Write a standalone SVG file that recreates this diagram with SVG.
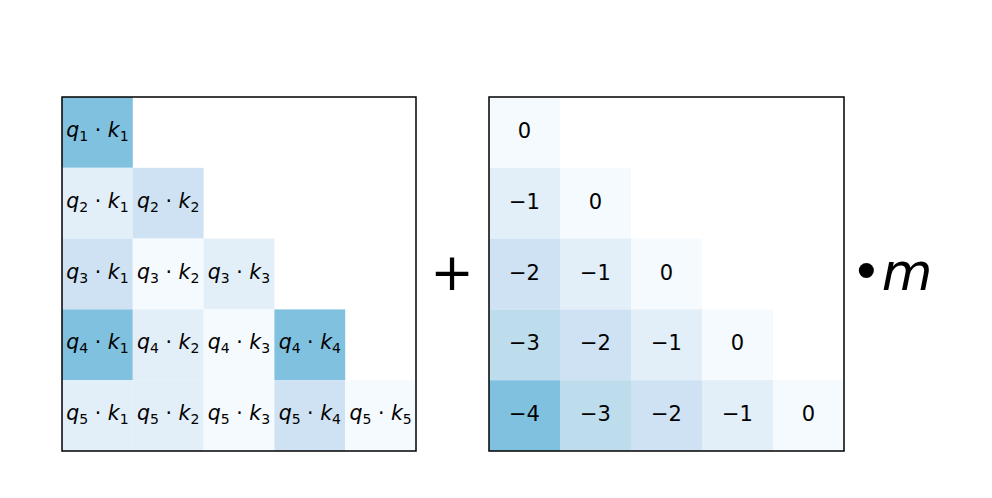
<svg xmlns="http://www.w3.org/2000/svg" width="992" height="498" viewBox="0 0 992 498">
<style>
.t{font-family:"DejaVu Sans",sans-serif;font-size:20.5px;fill:#000;text-anchor:middle}
.i{font-style:italic}
.s{font-size:14px}
.n{font-family:"DejaVu Sans",sans-serif;font-size:21px;fill:#000;text-anchor:middle}
.frame{fill:none;stroke:#000;stroke-width:1.5}
.c4{fill:#7fc1df}.c3{fill:#bddcec}.c2{fill:#cfe2f3}.c1{fill:#e2eef8}.c0{fill:#f5fafe}
</style>
<rect width="992" height="498" fill="#fff"/>
<g id="left-matrix">
<rect class="c4" x="62" y="97" width="70.8" height="70.8"/>
<rect class="c1" x="62" y="167.8" width="70.8" height="70.8"/>
<rect class="c2" x="132.8" y="167.8" width="70.8" height="70.8"/>
<rect class="c2" x="62" y="238.6" width="70.8" height="70.8"/>
<rect class="c0" x="132.8" y="238.6" width="70.8" height="70.8"/>
<rect class="c1" x="203.6" y="238.6" width="70.8" height="70.8"/>
<rect class="c4" x="62" y="309.4" width="70.8" height="70.8"/>
<rect class="c1" x="132.8" y="309.4" width="70.8" height="70.8"/>
<rect class="c0" x="203.6" y="309.4" width="70.8" height="70.8"/>
<rect class="c4" x="274.4" y="309.4" width="70.8" height="70.8"/>
<rect class="c1" x="62" y="380.2" width="70.8" height="70.8"/>
<rect class="c1" x="132.8" y="380.2" width="70.8" height="70.8"/>
<rect class="c0" x="203.6" y="380.2" width="70.8" height="70.8"/>
<rect class="c2" x="274.4" y="380.2" width="70.8" height="70.8"/>
<rect class="c0" x="345.2" y="380.2" width="70.8" height="70.8"/>
<text class="t" x="97.4" y="137"><tspan class="i">q</tspan><tspan class="s" dy="4">1</tspan><tspan dy="-4"> · </tspan><tspan class="i">k</tspan><tspan class="s" dy="4">1</tspan></text>
<text class="t" x="97.4" y="207.8"><tspan class="i">q</tspan><tspan class="s" dy="4">2</tspan><tspan dy="-4"> · </tspan><tspan class="i">k</tspan><tspan class="s" dy="4">1</tspan></text>
<text class="t" x="168.2" y="207.8"><tspan class="i">q</tspan><tspan class="s" dy="4">2</tspan><tspan dy="-4"> · </tspan><tspan class="i">k</tspan><tspan class="s" dy="4">2</tspan></text>
<text class="t" x="97.4" y="278.6"><tspan class="i">q</tspan><tspan class="s" dy="4">3</tspan><tspan dy="-4"> · </tspan><tspan class="i">k</tspan><tspan class="s" dy="4">1</tspan></text>
<text class="t" x="168.2" y="278.6"><tspan class="i">q</tspan><tspan class="s" dy="4">3</tspan><tspan dy="-4"> · </tspan><tspan class="i">k</tspan><tspan class="s" dy="4">2</tspan></text>
<text class="t" x="239" y="278.6"><tspan class="i">q</tspan><tspan class="s" dy="4">3</tspan><tspan dy="-4"> · </tspan><tspan class="i">k</tspan><tspan class="s" dy="4">3</tspan></text>
<text class="t" x="97.4" y="349.4"><tspan class="i">q</tspan><tspan class="s" dy="4">4</tspan><tspan dy="-4"> · </tspan><tspan class="i">k</tspan><tspan class="s" dy="4">1</tspan></text>
<text class="t" x="168.2" y="349.4"><tspan class="i">q</tspan><tspan class="s" dy="4">4</tspan><tspan dy="-4"> · </tspan><tspan class="i">k</tspan><tspan class="s" dy="4">2</tspan></text>
<text class="t" x="239" y="349.4"><tspan class="i">q</tspan><tspan class="s" dy="4">4</tspan><tspan dy="-4"> · </tspan><tspan class="i">k</tspan><tspan class="s" dy="4">3</tspan></text>
<text class="t" x="309.8" y="349.4"><tspan class="i">q</tspan><tspan class="s" dy="4">4</tspan><tspan dy="-4"> · </tspan><tspan class="i">k</tspan><tspan class="s" dy="4">4</tspan></text>
<text class="t" x="97.4" y="420.2"><tspan class="i">q</tspan><tspan class="s" dy="4">5</tspan><tspan dy="-4"> · </tspan><tspan class="i">k</tspan><tspan class="s" dy="4">1</tspan></text>
<text class="t" x="168.2" y="420.2"><tspan class="i">q</tspan><tspan class="s" dy="4">5</tspan><tspan dy="-4"> · </tspan><tspan class="i">k</tspan><tspan class="s" dy="4">2</tspan></text>
<text class="t" x="239" y="420.2"><tspan class="i">q</tspan><tspan class="s" dy="4">5</tspan><tspan dy="-4"> · </tspan><tspan class="i">k</tspan><tspan class="s" dy="4">3</tspan></text>
<text class="t" x="309.8" y="420.2"><tspan class="i">q</tspan><tspan class="s" dy="4">5</tspan><tspan dy="-4"> · </tspan><tspan class="i">k</tspan><tspan class="s" dy="4">4</tspan></text>
<text class="t" x="380.6" y="420.2"><tspan class="i">q</tspan><tspan class="s" dy="4">5</tspan><tspan dy="-4"> · </tspan><tspan class="i">k</tspan><tspan class="s" dy="4">5</tspan></text>
<rect class="frame" x="62" y="97" width="354" height="354"/>
</g>
<g id="plus"><text x="452" y="290" font-family="DejaVu Sans, sans-serif" font-size="52" text-anchor="middle">+</text></g>
<g id="right-matrix">
<rect class="c0" x="489" y="97" width="71" height="70.8"/>
<rect class="c1" x="489" y="167.8" width="71" height="70.8"/>
<rect class="c0" x="560" y="167.8" width="71" height="70.8"/>
<rect class="c2" x="489" y="238.6" width="71" height="70.8"/>
<rect class="c1" x="560" y="238.6" width="71" height="70.8"/>
<rect class="c0" x="631" y="238.6" width="71" height="70.8"/>
<rect class="c3" x="489" y="309.4" width="71" height="70.8"/>
<rect class="c2" x="560" y="309.4" width="71" height="70.8"/>
<rect class="c1" x="631" y="309.4" width="71" height="70.8"/>
<rect class="c0" x="702" y="309.4" width="71" height="70.8"/>
<rect class="c4" x="489" y="380.2" width="71" height="70.8"/>
<rect class="c3" x="560" y="380.2" width="71" height="70.8"/>
<rect class="c2" x="631" y="380.2" width="71" height="70.8"/>
<rect class="c1" x="702" y="380.2" width="71" height="70.8"/>
<rect class="c0" x="773" y="380.2" width="71" height="70.8"/>
<text class="n" x="524.5" y="138">0</text>
<text class="n" x="524.5" y="208.8">−1</text>
<text class="n" x="595.5" y="208.8">0</text>
<text class="n" x="524.5" y="279.6">−2</text>
<text class="n" x="595.5" y="279.6">−1</text>
<text class="n" x="666.5" y="279.6">0</text>
<text class="n" x="524.5" y="350.4">−3</text>
<text class="n" x="595.5" y="350.4">−2</text>
<text class="n" x="666.5" y="350.4">−1</text>
<text class="n" x="737.5" y="350.4">0</text>
<text class="n" x="524.5" y="421.2">−4</text>
<text class="n" x="595.5" y="421.2">−3</text>
<text class="n" x="666.5" y="421.2">−2</text>
<text class="n" x="737.5" y="421.2">−1</text>
<text class="n" x="808.5" y="421.2">0</text>
<rect class="frame" x="489" y="97" width="355" height="354"/>
</g>
<g id="scale-m"><text x="851" y="290" font-family="DejaVu Sans, sans-serif" font-size="52">•<tspan font-style="italic">m</tspan></text></g>
</svg>
